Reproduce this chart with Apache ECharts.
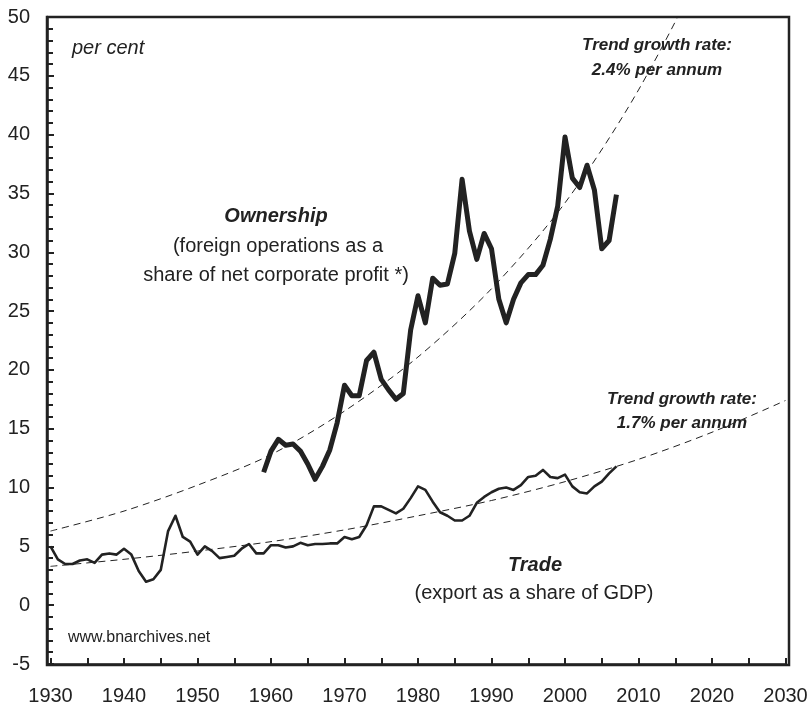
<!DOCTYPE html>
<html>
<head>
<meta charset="utf-8">
<script src="https://cdn.jsdelivr.net/npm/echarts@6/dist/echarts.min.js"></script>
<style>
  html, body { margin: 0; padding: 0; background: #fff; }
  #chart { width: 811px; height: 706px; }
</style>
</head>
<body>
<div id="chart"></div>
<script>
// export as a share of GDP, one value per year from 1930
var tradeStart = 1930;
var tradeValues = [
    5.0, 3.9, 3.5, 3.5, 3.8, 3.9, 3.6, 4.3, 4.4, 4.3,
    4.8, 4.3, 2.9, 2.0, 2.2, 3.0, 6.3, 7.6, 5.8, 5.4,
    4.3, 5.0, 4.6, 4.0, 4.1, 4.2, 4.8, 5.2, 4.4, 4.4,
    5.1, 5.1, 4.9, 5.0, 5.3, 5.1, 5.2, 5.2, 5.25, 5.25,
    5.8, 5.6, 5.8, 6.8, 8.4, 8.4, 8.1, 7.8, 8.2, 9.1,
    10.1, 9.8, 8.8, 7.9, 7.6, 7.2, 7.2, 7.6, 8.7, 9.2,
    9.6, 9.9, 10.0, 9.8, 10.2, 10.9, 11.0, 11.5, 10.9, 10.8,
    11.1, 10.1, 9.6, 9.5, 10.1, 10.5, 11.2, 11.8
];

// foreign operations as a share of net corporate profit, one value per year from 1959
var ownershipStart = 1959;
var ownershipValues = [
    11.3, 13.1, 14.1, 13.6, 13.7, 13.1, 12.0, 10.7, 11.8, 13.2, 15.5,
    18.7, 17.8, 17.8, 20.8, 21.5, 19.2, 18.3, 17.5, 18.0, 23.4,
    26.3, 24.0, 27.8, 27.2, 27.3, 29.9, 36.2, 31.8, 29.4, 31.6,
    30.3, 26.0, 24.0, 26.0, 27.4, 28.1, 28.1, 28.9, 31.1, 33.9,
    39.8, 36.3, 35.5, 37.4, 35.3, 30.3, 31.0, 34.9
];

// trend curves
var trendYears = [1930, 1940, 1950, 1960, 1970, 1980, 1990, 2000, 2010, 2020, 2030];
var ownershipTrend = [6.3, 8.0, 10.2, 12.8, 16.5, 21.1, 26.9, 34.2, 43.8, 56.0, 71.0];
var tradeTrend = [3.3, 3.9, 4.6, 5.4, 6.4, 7.6, 8.9, 10.5, 12.4, 14.7, 17.4];

function toPairs(start, values) {
    return values.map(function (v, i) { return [start + i, v]; });
}
function zipPairs(xs, ys) {
    return xs.map(function (x, i) { return [x, ys[i]]; });
}

var ink = '#222';
var font = 'Liberation Sans, Arial, sans-serif';

var chart = echarts.init(document.getElementById('chart'));

var option = {
    animation: false,
    // the plotted years sit a little inside the frame, as in the original
    grid: { left: 50.5, top: 17, width: 735, height: 648, show: false },
    xAxis: {
        type: 'value', min: 1930, max: 2030, interval: 10,
        splitLine: { show: false },
        axisLine: { onZero: false, lineStyle: { color: ink, width: 2.5 } },
        axisTick: { inside: true, length: 6, lineStyle: { color: ink, width: 2 } },
        minorTick: { show: true, splitNumber: 2, length: 6, lineStyle: { color: ink, width: 2 } },
        axisLabel: {
            color: ink, fontSize: 20, fontFamily: font, margin: 22,
            formatter: function (v) { return String(v); }
        }
    },
    yAxis: {
        type: 'value', min: -5, max: 50, interval: 5, offset: 3.5,
        splitLine: { show: false },
        axisLine: { show: true, onZero: false, lineStyle: { color: ink, width: 2.5 } },
        axisTick: { show: true, inside: true, length: 7, lineStyle: { color: ink, width: 2 } },
        minorTick: { show: true, splitNumber: 5, length: 6, lineStyle: { color: ink, width: 2 } },
        axisLabel: { color: ink, fontSize: 20, fontFamily: font, margin: 17 }
    },
    series: [
        {
            name: 'Ownership trend', type: 'line', smooth: 0.3, symbol: 'none',
            data: zipPairs(trendYears, ownershipTrend),
            lineStyle: { color: ink, width: 1, type: [7, 5] }
        },
        {
            name: 'Trade trend', type: 'line', smooth: 0.3, symbol: 'none',
            data: zipPairs(trendYears, tradeTrend),
            lineStyle: { color: ink, width: 1, type: [7, 5] }
        },
        {
            name: 'Trade', type: 'line', symbol: 'none',
            data: toPairs(tradeStart, tradeValues),
            lineStyle: { color: ink, width: 2.6, join: 'round' }
        },
        {
            name: 'Ownership', type: 'line', symbol: 'none',
            data: toPairs(ownershipStart, ownershipValues),
            lineStyle: { color: ink, width: 5, join: 'round' }
        }
    ],
    graphic: [
        {
            type: 'rect', z: 90, silent: true,
            shape: { x: 47, y: 17, width: 742, height: 648 },
            style: { fill: null, stroke: ink, lineWidth: 2.5 }
        },
        txt('per cent', 72, 48, 'italic 20px ' + font, 'left'),
        txt('Ownership', 276, 216, 'italic bold 20px ' + font),
        txt('(foreign operations as a', 278, 246, '20px ' + font),
        txt('share of net corporate profit *)', 276, 275, '20px ' + font),
        txt('Trend growth rate:', 657, 45, 'italic bold 17px ' + font),
        txt('2.4% per annum', 657, 70, 'italic bold 17px ' + font),
        txt('Trend growth rate:', 682, 399, 'italic bold 17px ' + font),
        txt('1.7% per annum', 682, 423, 'italic bold 17px ' + font),
        txt('Trade', 535, 565, 'italic bold 20px ' + font),
        txt('(export as a share of GDP)', 534, 593, '20px ' + font),
        txt('www.bnarchives.net', 68, 638, '16px ' + font, 'left')
    ]
};

function txt(text, x, y, f, align) {
    align = align || 'center';
    return {
        type: 'text', z: 100,
        style: {
            text: text, x: x, y: y, font: f, fill: ink,
            align: align, textAlign: align,
            verticalAlign: 'middle', textVerticalAlign: 'middle'
        }
    };
}

chart.setOption(option);
</script>
</body>
</html>
